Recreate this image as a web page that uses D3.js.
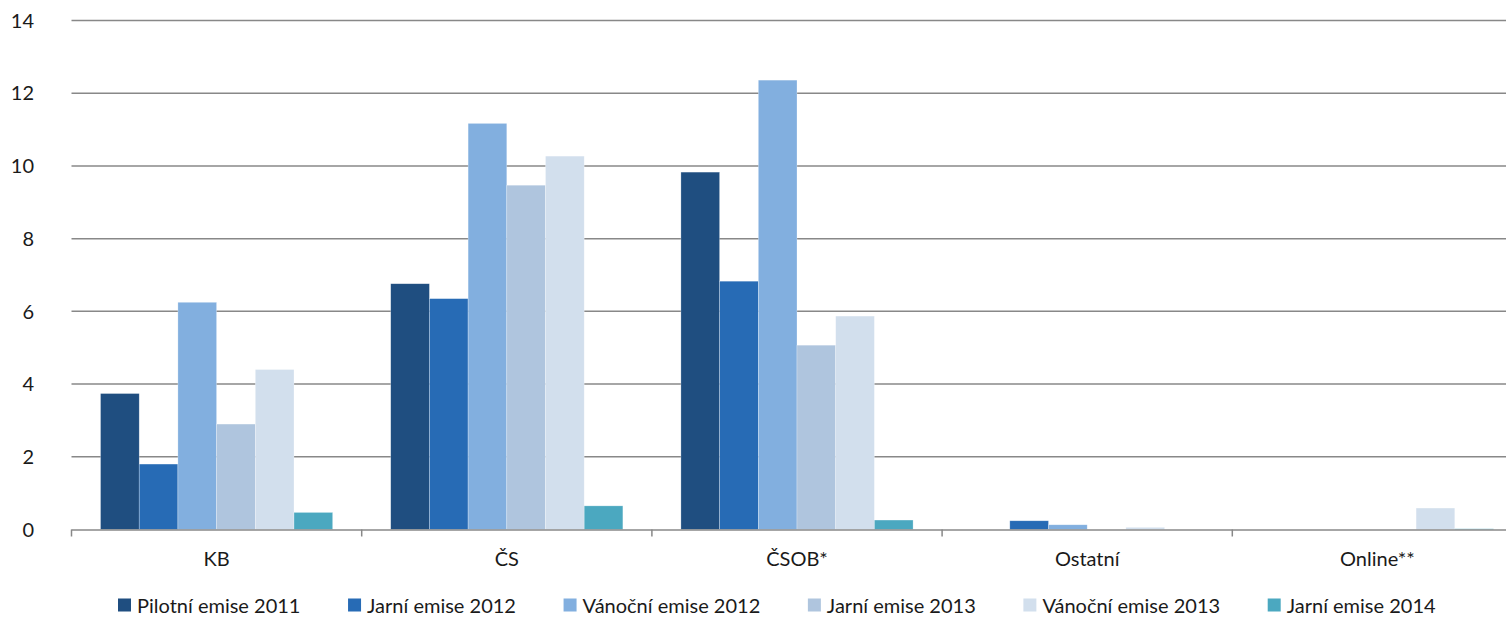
<!DOCTYPE html>
<html>
<head>
<meta charset="utf-8">
<script src="https://cdn.jsdelivr.net/npm/d3@7"></script>
<style>
  body { margin: 0; background: #fff; }
  svg text { font-family: Lato, "Open Sans", sans-serif; fill: #1a1a1a; }
</style>
</head>
<body>
<svg id="chart"></svg>
<script>
// categories (banks) and series (emissions)
var categories = ["KB", "ČS", "ČSOB*", "Ostatní", "Online**"];
var seriesNames = ["Pilotní emise 2011", "Jarní emise 2012", "Vánoční emise 2012",
                   "Jarní emise 2013", "Vánoční emise 2013", "Jarní emise 2014"];
var pilotni2011 = [3.74, 6.76, 9.83, 0, 0];
var jarni2012 = [1.80, 6.35, 6.83, 0.24, 0];
var vanocni2012 = [6.25, 11.17, 12.36, 0.13, 0];
var jarni2013 = [2.90, 9.47, 5.07, 0, 0];
var vanocni2013 = [4.40, 10.27, 5.87, 0.06, 0.59];
var jarni2014 = [0.47, 0.65, 0.26, 0, 0.02];
var yTicks = [0, 2, 4, 6, 8, 10, 12, 14];
var colors = ["#1F4E80", "#276BB5", "#82AFDF", "#AFC5DE", "#D2DFED", "#4BA8C0"];

var values = [pilotni2011, jarni2012, vanocni2012, jarni2013, vanocni2013, jarni2014];

var W = 1506, H = 617;
var svg = d3.select("#chart").attr("width", W).attr("height", H);
var fs = "20px";

// échelles
var left = 71.5, bandW = 290.2;
var x0 = d3.scaleBand()
    .domain(categories)
    .range([left, left + bandW * categories.length])
    .paddingInner(0).paddingOuter(0);
var x1 = d3.scaleBand()
    .domain(d3.range(seriesNames.length))
    .range([0, x0.bandwidth()])
    .paddingInner(0).paddingOuter(0.75);
var y = d3.scaleLinear().domain([0, 14]).range([529.5, 20.5]);

// grille
svg.append("g").selectAll("line")
    .data(yTicks.slice(1))
    .enter().append("line")
    .attr("x1", left).attr("x2", W)
    .attr("y1", function(d) { return y(d); })
    .attr("y2", function(d) { return y(d); })
    .attr("stroke", "#888").attr("stroke-width", 1.5);

// y labels
svg.append("g").selectAll("text")
    .data(yTicks)
    .enter().append("text")
    .attr("x", 34)
    .attr("y", function(d) { return y(d); })
    .attr("dy", "0.36em")
    .attr("text-anchor", "end")
    .style("font-size", fs)
    .text(function(d) { return d; });

// barres
var serie = svg.append("g").selectAll("g")
    .data(values)
    .enter().append("g")
    .attr("fill", function(d, i) { return colors[i]; });

serie.each(function(vals, si) {
    d3.select(this).selectAll("rect")
        .data(vals)
        .enter().append("rect")
        .attr("x", function(d, ci) { return x0(categories[ci]) + x1(si); })
        .attr("width", x1.bandwidth())
        .attr("y", function(d) { return y(d); })
        .attr("height", function(d) { return y(0) - y(d); })
        .attr("stroke", "rgba(255,255,255,0.45)")
        .attr("stroke-width", 0.6);
});

// axe x
var axis = svg.append("g");
axis.append("line")
    .attr("x1", left).attr("x2", W)
    .attr("y1", y(0) + 0.5).attr("y2", y(0) + 0.5)
    .attr("stroke", "#888").attr("stroke-width", 1.5);
var bounds = categories.map(function(c) { return x0(c); }).concat([x0.range()[1]]);
axis.selectAll(".tick")
    .data(bounds)
    .enter().append("line")
    .attr("class", "tick")
    .attr("x1", function(d) { return d; }).attr("x2", function(d) { return d; })
    .attr("y1", y(0)).attr("y2", y(0) + 7)
    .attr("stroke", "#888").attr("stroke-width", 1.5);
axis.selectAll("text")
    .data(categories)
    .enter().append("text")
    .attr("x", function(d) { return x0(d) + x0.bandwidth() / 2; })
    .attr("y", 566)
    .attr("text-anchor", "middle")
    .style("font-size", fs)
    .text(function(d) { return d; });

// légende
var legend = svg.append("g");
var sq = 13, gapTxt = 6, legLeft = 118, legRight = 1436;
var items = legend.selectAll("g")
    .data(seriesNames)
    .enter().append("g");
items.append("rect")
    .attr("width", sq).attr("height", sq)
    .attr("y", -sq / 2 - 1)
    .attr("fill", function(d, i) { return colors[i]; });
items.append("text")
    .attr("x", sq + gapTxt)
    .attr("dy", "0.36em")
    .style("font-size", fs)
    .text(function(d) { return d; });
var widths = [];
items.each(function() { widths.push(this.getBBox().width); });
var gapItem = (legRight - legLeft - d3.sum(widths)) / (widths.length - 1);
var xPos = legLeft;
items.attr("transform", function(d, i) {
    var t = "translate(" + xPos + ",606)";
    xPos += widths[i] + gapItem;
    return t;
});
</script>
</body>
</html>
